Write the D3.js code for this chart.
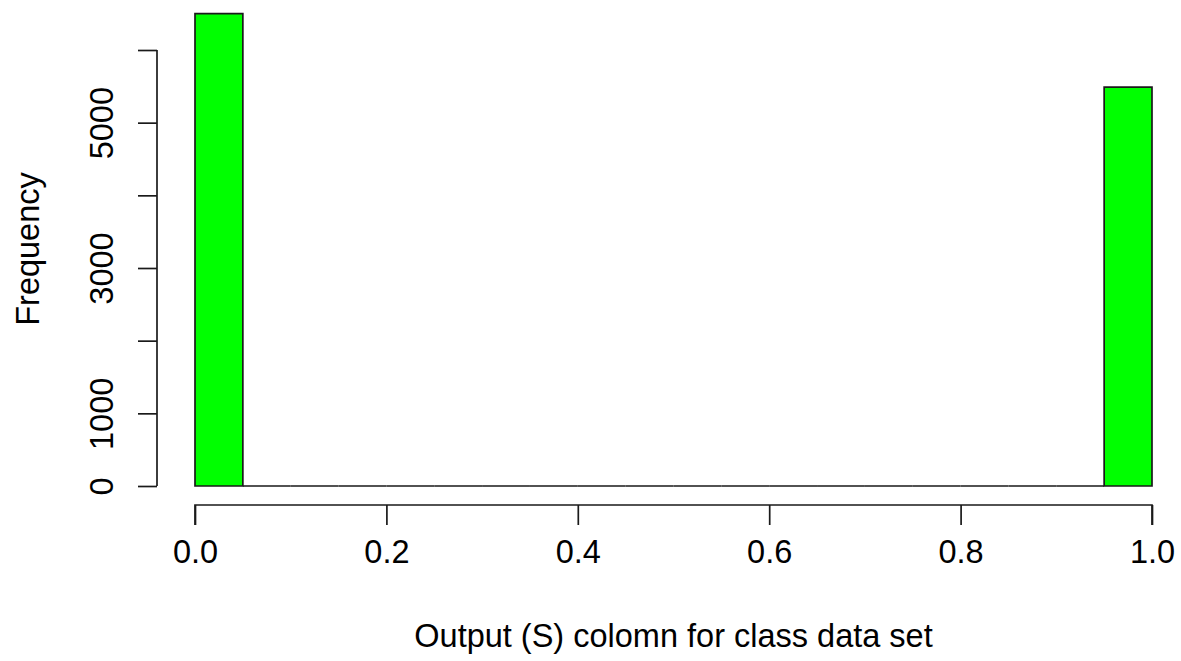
<!DOCTYPE html>
<html>
<head>
<meta charset="utf-8">
<script src="https://cdn.jsdelivr.net/npm/d3@7"></script>
<style>
  body { margin: 0; background: #fff; }
  text { font-family: "Liberation Sans", Arial, sans-serif; fill: #000; }
</style>
</head>
<body>
<svg id="chart" width="1181" height="661"></svg>
<script>
// histogram bins (width 0.05) and counts
var binEdges = [0, 0.05, 0.1, 0.15, 0.2, 0.25, 0.3, 0.35, 0.4, 0.45, 0.5,
                0.55, 0.6, 0.65, 0.7, 0.75, 0.8, 0.85, 0.9, 0.95, 1.0];
var binCounts = [6500, 0, 0, 0, 0, 0, 0, 0, 0, 0,
                 0, 0, 0, 0, 0, 0, 0, 0, 0, 5490];
var xTicks = [0, 0.2, 0.4, 0.6, 0.8, 1.0];
var yTicks = [0, 1000, 2000, 3000, 4000, 5000, 6000];
var yLabelled = [0, 1000, 3000, 5000];
var xTitle = "Output (S) colomn for class data set";
var yTitle = "Frequency";

var svg = d3.select("#chart");
var fontSize = 32.5;

var x = d3.scaleLinear().domain([0, 1]).range([195, 1152]);
var y = d3.scaleLinear().domain([0, 6000]).range([486, 50]);

var bins = binCounts.map((c, i) => ({x0: binEdges[i], x1: binEdges[i + 1], n: c}));

// bars as paths so empty bins still show as a line at 0
svg.append("g").selectAll("path")
  .data(bins)
  .enter()
  .append("path")
  .attr("d", d => `M${x(d.x0)},${y(0)}V${y(d.n)}H${x(d.x1)}V${y(0)}Z`)
  .attr("fill", "#00ff00")
  .attr("stroke", "#1a1a1a")
  .attr("stroke-width", 1.7);

// x axis (R style: detached below the plot)
var xAxis = d3.axisBottom(x).tickValues(xTicks).tickSize(20).tickPadding(15)
  .tickFormat(d3.format(".1f"));
var gx = svg.append("g").attr("transform", "translate(0,505)").call(xAxis);
gx.select(".domain").attr("d", `M${x(0)},20V0H${x(1)}V20`);
gx.selectAll("line, path").attr("stroke", "#1a1a1a").attr("stroke-width", 1.7);
gx.selectAll("text").attr("font-size", fontSize).attr("font-family", null);

// y axis
var yAxis = d3.axisLeft(y).tickValues(yTicks).tickSize(19)
  .tickFormat(d => yLabelled.includes(d) ? d : "");
var gy = svg.append("g").attr("transform", "translate(157,0)").call(yAxis);
gy.select(".domain").attr("d", `M0,${y(0)}V${y(6000)}`);
gy.selectAll("line, path").attr("stroke", "#1a1a1a").attr("stroke-width", 1.7);
gy.selectAll("text")
  .attr("font-size", fontSize)
  .attr("font-family", null)
  .attr("x", null).attr("dy", null)
  .attr("text-anchor", "middle")
  .attr("transform", "translate(-44,0) rotate(-90)");

// titles
svg.append("text")
  .attr("x", (x(0) + x(1)) / 2)
  .attr("y", 647)
  .attr("text-anchor", "middle")
  .attr("font-size", fontSize)
  .text(xTitle);

svg.append("text")
  .attr("transform", "translate(39,249) rotate(-90)")
  .attr("text-anchor", "middle")
  .attr("font-size", fontSize)
  .text(yTitle);
</script>
</body>
</html>
